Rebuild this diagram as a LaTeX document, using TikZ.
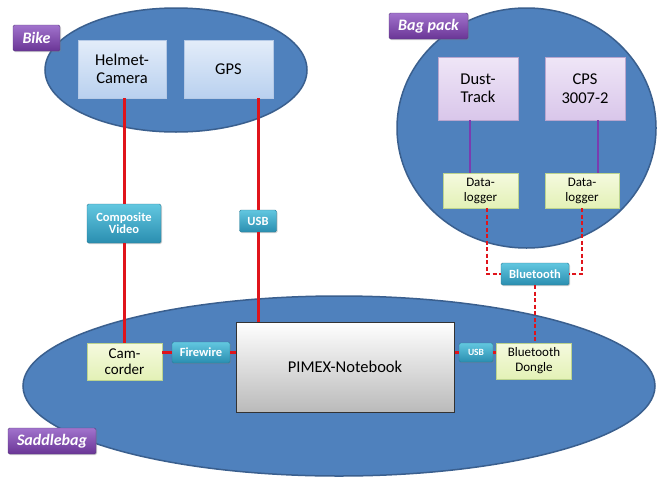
\documentclass[tikz,border=0pt]{standalone}
\usepackage{fontspec}
\setmainfont{Carlito}
\usetikzlibrary{positioning,shadows}
\definecolor{ellfill}{HTML}{4F81BD}
\definecolor{elldraw}{HTML}{3A5F8E}
\definecolor{bluetop}{HTML}{E3EDF9}
\definecolor{bluebot}{HTML}{B9D0EF}
\definecolor{bluedraw}{HTML}{B4C9E6}
\definecolor{violettop}{HTML}{EFE6F7}
\definecolor{violetbot}{HTML}{D9C6EA}
\definecolor{violetdraw}{HTML}{B9A6CF}
\definecolor{greentop}{HTML}{F5FADF}
\definecolor{greenbot}{HTML}{E3F1B6}
\definecolor{greendraw}{HTML}{BCD48F}
\definecolor{linktop}{HTML}{62C7E0}
\definecolor{linkbot}{HTML}{2A8EB0}
\definecolor{linkdraw}{HTML}{2B7E98}
\definecolor{tagtop}{HTML}{A173CC}
\definecolor{tagbot}{HTML}{6A3596}
\definecolor{tagdraw}{HTML}{5C3F80}
\definecolor{wirered}{HTML}{E0141B}
\definecolor{probeviolet}{HTML}{7A3CB0}

\begin{document}
\begin{tikzpicture}[x=1pt,y=-1pt,
  area/.style={draw=elldraw,line width=1.5pt,fill=ellfill},
  box/.style={rectangle,align=center,inner sep=0pt,font=\fontsize{16.5}{18.5}\selectfont},
  bluebox/.style={box,draw=bluedraw,top color=bluetop,bottom color=bluebot},
  violetbox/.style={box,draw=violetdraw,top color=violettop,bottom color=violetbot},
  greenbox/.style={box,draw=greendraw,top color=greentop,bottom color=greenbot},
  link/.style={rectangle,rounded corners=1.5pt,align=center,inner sep=0pt,draw=linkdraw,
    top color=linktop,bottom color=linkbot,text=white,
    font=\bfseries\fontsize{12.5}{13}\selectfont,
    drop shadow={opacity=0.35,shadow xshift=1pt,shadow yshift=-1.2pt}},
  tag/.style={rectangle,rounded corners=1.5pt,inner sep=0pt,draw=tagdraw,
    top color=tagtop,bottom color=tagbot,text=white,
    font=\bfseries\itshape\fontsize{16}{18}\selectfont,
    drop shadow={opacity=0.35,shadow xshift=1pt,shadow yshift=-1.2pt}},
  wire/.style={draw=wirered,line width=3pt},
  radio/.style={draw=wirered,line width=2pt,dash pattern=on 4pt off 2.5pt},
  probe/.style={draw=probeviolet,line width=2.2pt}]
  \useasboundingbox (0,0) rectangle (660,479);
  \fill[white] (0,0) rectangle (660,479);

  \draw[area] (176,70) ellipse [x radius=131, y radius=62];
  \draw[area] (526.5,128) ellipse [x radius=129.5, y radius=120];
  \draw[area] (339,386) ellipse [x radius=316, y radius=90];

  \node[bluebox,minimum width=88,minimum height=58] (helmet) at (122,69) {Helmet-\\Camera};
  \node[bluebox,minimum width=89,minimum height=58] (gps) at (228.5,69) {GPS};
  \node[violetbox,minimum width=80,minimum height=63] (dust) at (478,88.5) {Dust-\\Track};
  \node[violetbox,minimum width=80,minimum height=63] (cps) at (585,88.5) {CPS\\3007-2};
  \node[greenbox,minimum width=75,minimum height=35,font=\fontsize{13}{15}\selectfont] (loggera) at (480.5,190.5) {Data-\\logger};
  \node[greenbox,minimum width=74,minimum height=35,font=\fontsize{13}{15}\selectfont] (loggerb) at (582,190.5) {Data-\\logger};
  \node[greenbox,minimum width=75,minimum height=37,font=\fontsize{15}{16.5}\selectfont] (camcorder) at (124.5,361.5) {Cam-\\corder};
  \node[greenbox,minimum width=75,minimum height=36,font=\fontsize{13}{15}\selectfont] (dongle) at (534,361) {Bluetooth\\Dongle};
  \node[box,draw=black!80,line width=1pt,top color=white,bottom color=black!27,
    minimum width=218,minimum height=90] (notebook) at (345,367) {PIMEX-Notebook};

  \node[link,minimum width=74,minimum height=39] (composite) at (124,223.5) {Composite\\[-1pt]Video};
  \node[link,minimum width=37,minimum height=22] (usba) at (258,221) {USB};
  \node[link,minimum width=68,minimum height=22] (bt) at (535,274) {Bluetooth};
  \node[link,minimum width=58,minimum height=21] (firewire) at (201,352.5) {Firewire};
  \node[link,minimum width=34,minimum height=19,font=\bfseries\fontsize{9.5}{10}\selectfont] (usbb) at (476,352.5) {USB};

  \node[tag,minimum width=47,minimum height=26] (bike) at (36.5,38) {Bike};
  \node[tag,minimum width=79,minimum height=26] (bagpack) at (428.5,26) {Bag pack};
  \node[tag,minimum width=88,minimum height=26] (saddlebag) at (52,441) {Saddlebag};

  \draw[wire] (composite) -- (composite |- helmet.south);
  \draw[wire] (composite) -- (composite |- camcorder.north);
  \draw[wire] (usba) -- (usba |- gps.south);
  \draw[wire] (usba) -- (usba |- notebook.north);
  \draw[wire] (firewire) -- (firewire -| camcorder.east);
  \draw[wire] (firewire) -- (firewire -| notebook.west);
  \draw[wire] (usbb) -- (usbb -| notebook.east);
  \draw[wire] (usbb) -- (usbb -| dongle.west);
  \draw[probe] ([xshift=-8pt]dust.south) -- ([xshift=-8pt]dust.south |- loggera.north);
  \draw[probe] ([xshift=13pt]cps.south) -- ([xshift=13pt]cps.south |- loggerb.north);
  \draw[radio] ([xshift=6.5pt]loggera.south) |- (bt.west);
  \draw[radio] (loggerb.south) |- (bt.east);
  \draw[radio] (bt) -- (bt |- dongle.north);
\end{tikzpicture}
\end{document}
